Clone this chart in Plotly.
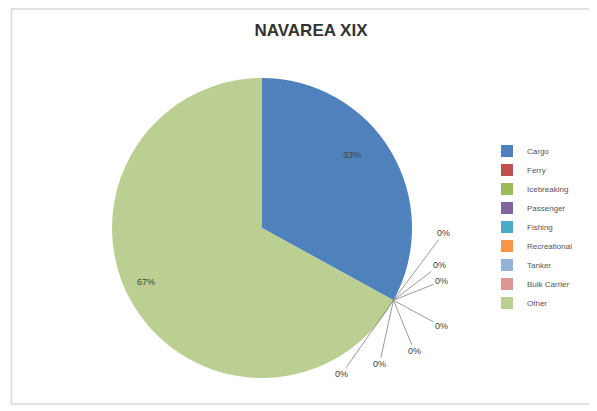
import math
import plotly.graph_objects as go

categories = ["Cargo", "Ferry", "Icebreaking", "Passenger", "Fishing",
              "Recreational", "Tanker", "Bulk Carrier", "Other"]
values = [33, 0, 0, 0, 0, 0, 0, 0, 67]
colors = ["#4F81BD", "#C0504D", "#9BBB59", "#8064A2", "#4BACC6",
          "#F79646", "#95B3D7", "#D99694", "#BACF91"]
title = "NAVAREA XIX"

# ---- layout / style settings (pixels in the final screenshot) ----
OFF = 8                               # page body margin of the browser
W, H = 597 - OFF, 411 - OFF           # figure size
def fx(px):                           # screenshot x pixel -> paper
    return (px - OFF) / W
def fy(py):                           # screenshot y pixel -> paper
    return 1 - (py - OFF) / H

CX, CY, R = 262, 228, 150             # pie centre and radius
zero_label_offsets = [(50, -67), (46, -35), (48, -19), (48, 26),
                      (21, 51), (-14, 64), (-52, 74)]
INSIDE_FRAC = 0.78
inside_nudge = {"Cargo": (-11, -13), "Other": (-26, 1)}

fig = go.Figure(go.Pie(
    labels=categories, values=values, sort=False, direction="clockwise",
    rotation=0, marker=dict(colors=colors, line=dict(width=0)),
    textinfo="none", hoverinfo="label+percent",
    domain=dict(x=[fx(CX - R), fx(CX + R)], y=[fy(CY + R), fy(CY - R)]),
    showlegend=True,
))

total = sum(values)
annotations = []
cum = 0.0
zi = 0
txtfont = dict(family="Liberation Sans", size=9, color="#404040")
for cat, v in zip(categories, values):
    frac0 = cum / total
    frac1 = (cum + v) / total
    cum += v
    pct = f"{round(100 * v / total)}%"
    if v > 0:
        th = 2 * math.pi * (frac0 + frac1) / 2
        nx, ny = inside_nudge.get(cat, (0, 0))
        px = CX + INSIDE_FRAC * R * math.sin(th) + nx
        py = CY - INSIDE_FRAC * R * math.cos(th) + ny
        annotations.append(dict(x=fx(px), y=fy(py), xref="paper", yref="paper",
                                text=pct, showarrow=False, font=txtfont))
    else:
        th = 2 * math.pi * frac0
        px = CX + R * math.sin(th)
        py = CY - R * math.cos(th)
        dx, dy = zero_label_offsets[zi % len(zero_label_offsets)]
        zi += 1
        annotations.append(dict(x=fx(px), y=fy(py), xref="paper", yref="paper",
                                text=pct, showarrow=True, arrowhead=0,
                                arrowwidth=0.8, arrowcolor="#7F7F7F",
                                ax=dx, ay=dy, standoff=0, font=txtfont))

fig.update_layout(
    width=W, height=H, margin=dict(l=0, r=0, t=0, b=0),
    paper_bgcolor="white", plot_bgcolor="white",
    title=dict(text="<b>" + title + "</b>", x=fx(311), y=fy(30),
               xref="paper", xanchor="center", yanchor="middle",
               font=dict(family="Liberation Sans", size=17, color="#333333")),
    legend=dict(x=fx(487), y=fy(227), xanchor="left", yanchor="middle",
                font=dict(family="Liberation Sans", size=8, color="#555555"),
                bgcolor="rgba(0,0,0,0)"),
    annotations=annotations,
    shapes=[
        dict(type="rect", xref="paper", yref="paper", x0=fx(11.5), x1=fx(590),
             y0=fy(404), y1=fy(9), line=dict(color="#D9D9D9", width=1.5)),
    ],
)
fig.write_html("out.html")
